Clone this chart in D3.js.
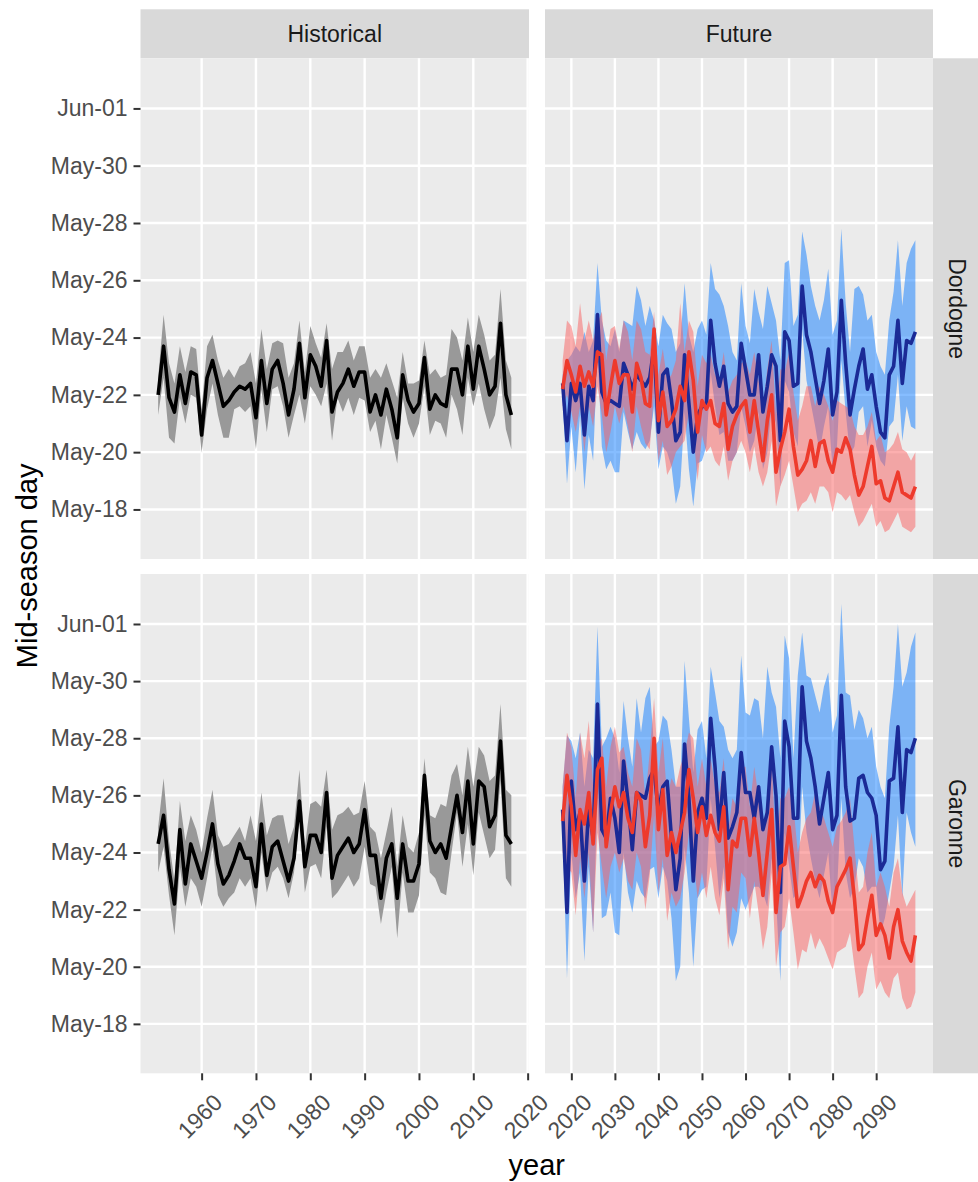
<!DOCTYPE html>
<html>
<head>
<meta charset="utf-8">
<script src="https://cdn.jsdelivr.net/npm/d3@7"></script>
<style>
body { margin: 0; background: #fff; }
text { font-family: "Liberation Sans", Arial, sans-serif; }
</style>
</head>
<body>
<div id="chart"></div>
<script>

// ---- data (values are day of May, Jun-01 = 32) ----

var periods = ["Historical", "Future"];
var rivers = ["Dordogne", "Garonne"];

var histYears = d3.range(1952, 2018);
var futYears = d3.range(2018, 2100);

var histTicks = [1960, 1970, 1980, 1990, 2000, 2010, 2020];
var futTicks = [2020, 2030, 2040, 2050, 2060, 2070, 2080, 2090];

var yTickDays = [18, 20, 22, 24, 26, 28, 30, 32];
var yTickLabels = ["May-18", "May-20", "May-22", "May-24", "May-26", "May-28", "May-30", "Jun-01"];

// historical, Dordogne
var dordogneHistMid = [22.0,23.7,21.9,21.4,22.7,21.7,22.8,22.7,20.6,22.6,
	23.2,22.4,21.6,21.8,22.1,22.3,22.2,22.4,21.2,23.2,
	21.7,22.9,23.2,22.4,21.3,22.2,23.8,21.9,23.4,23.0,
	22.3,23.9,21.4,22.1,22.4,22.9,22.3,22.8,22.8,21.4,
	22.0,21.3,22.2,21.5,20.5,22.7,21.8,21.4,21.7,23.3,
	21.5,22.0,21.7,21.6,22.9,22.9,22.0,23.7,22.2,23.7,
	22.9,22.0,22.3,24.5,22.0,21.3];
var dordogneHistHi = [22.6,24.8,23.1,22.4,23.7,22.8,23.7,23.6,21.5,23.7,
	24.1,23.2,22.6,22.9,22.6,23.0,23.1,23.5,22.4,24.3,
	22.9,23.8,23.9,23.8,22.6,23.1,24.6,22.8,24.4,23.8,
	23.3,24.5,22.9,23.5,23.5,23.9,23.2,23.7,23.7,22.6,
	22.9,22.6,23.1,22.5,21.9,23.5,22.4,22.4,22.5,23.9,
	22.7,22.9,22.6,22.7,24.3,24.0,23.2,24.7,23.5,24.8,
	24.1,23.2,23.4,25.7,23.2,22.6];
var dordogneHistLo = [21.3,22.6,20.5,20.3,21.9,21.0,22.0,21.9,20.0,21.5,
	22.4,21.3,20.5,20.5,21.5,21.6,21.4,21.6,20.1,22.2,
	20.7,22.2,22.3,21.6,20.5,21.3,22.0,21.0,22.3,22.0,
	21.6,22.4,20.4,21.9,21.4,21.9,21.3,21.9,21.8,20.7,
	21.1,20.1,21.3,20.5,19.6,21.9,21.0,20.5,21.0,22.3,
	20.6,21.1,21.0,20.5,22.0,21.5,20.6,22.6,21.6,22.4,
	21.5,20.8,21.3,22.6,20.8,20.1];

// historical, Garonne
var garonneHistMid = [24.3,25.3,23.4,22.2,24.8,22.9,24.3,23.7,23.1,24.0,
	25.0,23.6,22.9,23.2,23.7,24.3,23.8,23.8,22.8,25.0,
	23.2,24.2,24.4,23.7,23.0,23.8,25.8,23.5,24.6,24.6,
	24.0,26.1,23.1,23.9,24.2,24.5,24.0,24.3,25.5,23.9,
	23.9,22.4,23.8,24.3,22.4,24.3,23.0,23.0,23.6,26.7,
	24.4,24.0,24.3,23.8,24.9,26.0,24.7,26.5,24.3,26.5,
	26.3,24.9,25.3,27.9,24.6,24.3];
var garonneHistHi = [24.9,26.6,24.4,23.0,25.8,24.4,25.3,24.8,24.0,25.2,
	26.2,24.6,24.2,24.3,24.6,24.9,24.4,25.3,24.4,26.1,
	24.6,25.2,25.3,25.3,24.3,24.9,26.9,24.2,25.7,25.8,
	25.6,26.9,24.8,25.3,25.4,25.6,25.3,25.4,26.5,24.9,
	24.7,23.8,24.7,25.6,23.5,25.3,24.2,24.0,24.7,27.3,
	25.3,25.2,25.7,25.6,26.7,27.1,26.0,27.7,26.3,27.7,
	27.4,26.5,26.7,29.2,26.2,26.0];
var garonneHistLo = [23.3,24.2,22.5,21.1,23.5,22.1,23.1,22.8,22.1,23.1,
	24.2,22.5,22.1,22.4,22.6,23.1,22.8,23.1,22.0,24.0,
	22.6,23.3,23.5,23.1,22.4,23.3,25.2,22.6,23.5,23.6,
	23.1,24.9,22.4,22.6,22.9,23.2,22.8,23.1,24.2,22.9,
	22.8,21.5,22.6,23.5,21.0,23.3,21.9,21.9,22.5,25.3,
	23.3,23.1,22.6,22.5,24.0,25.4,23.5,25.0,23.2,25.4,
	24.6,23.8,24.1,26.5,23.1,22.8];

// future, Dordogne, blue series
var dordogneBlueMid = [22.4,20.4,22.4,21.8,22.4,20.6,22.3,21.8,24.8,22.1,
	21.7,21.8,21.7,21.6,23.1,22.7,22.2,22.7,22.5,22.3,
	22.6,23.7,20.7,22.7,22.9,21.8,20.4,20.7,23.4,21.7,
	20.0,21.3,21.6,21.6,24.6,23.1,22.3,23.0,21.7,21.4,
	21.6,23.8,22.9,22.0,22.0,23.4,21.4,22.3,23.4,23.0,
	20.4,24.2,23.9,22.3,22.4,25.8,24.1,23.5,22.6,21.7,
	22.5,23.6,21.3,22.1,25.3,23.1,21.3,22.2,23.0,23.6,
	22.2,22.7,21.6,20.7,20.5,22.7,23.0,24.6,22.4,23.9,
	23.8,24.2];
var dordogneBlueHi = [22.7,23.2,23.4,23.7,23.5,24.2,23.5,23.9,26.6,24.6,
	23.9,23.7,24.3,23.5,24.6,24.5,24.4,25.8,25.3,24.4,
	25.1,24.6,23.7,24.8,24.5,24.3,23.5,23.8,25.9,24.1,
	23.5,24.3,24.6,24.1,26.6,25.7,25.5,25.1,24.4,23.5,
	23.2,25.9,24.4,23.8,25.7,24.9,24.3,25.8,25.2,24.6,
	23.2,26.6,26.7,24.4,24.8,27.7,26.9,25.8,25.1,24.6,
	25.3,26.4,24.1,24.6,27.8,25.2,23.5,25.7,25.8,25.5,
	24.6,24.8,23.5,23.0,22.7,24.6,25.6,27.4,25.1,26.6,
	27.1,27.4];
var dordogneBlueLo = [21.8,18.9,20.9,19.3,21.3,18.7,20.6,19.7,23.5,20.2,
	19.4,19.7,19.3,19.3,21.4,20.7,20.1,20.7,20.3,20.1,
	20.4,21.6,19.4,20.2,20.0,19.5,18.2,18.8,21.4,19.4,
	18.1,19.6,19.7,20.2,22.8,21.6,20.6,20.7,19.7,19.7,
	20.0,21.6,20.9,20.0,20.4,21.4,19.4,20.0,21.6,21.0,
	18.8,22.5,22.1,20.7,20.2,24.3,22.5,21.7,20.9,20.0,
	20.9,21.6,19.3,20.2,23.2,21.4,19.9,20.2,21.4,21.6,
	20.2,21.1,20.2,19.7,19.5,20.9,21.1,22.7,20.4,21.6,
	20.9,20.8];

// future, Dordogne, red series
var dordogneRedMid = [22.2,23.2,22.7,22.1,23.0,22.3,22.8,22.3,23.5,23.4,
	21.3,22.3,23.2,22.4,22.7,22.7,21.4,23.1,22.6,21.7,
	21.6,24.3,21.1,22.1,20.9,21.1,21.5,22.3,21.8,23.5,
	22.5,20.7,21.8,21.5,21.8,21.0,20.9,21.7,20.1,20.9,
	21.3,21.6,21.8,20.7,21.8,20.7,19.7,21.1,22.0,19.3,
	20.1,20.7,21.5,20.2,19.2,19.4,19.7,20.4,19.5,20.3,
	20.4,19.7,19.3,20.1,20.0,20.5,20.1,19.2,18.5,18.8,
	19.5,20.2,18.9,19.0,18.4,18.3,18.8,19.3,18.6,18.5,
	18.4,18.8];
var dordogneRedHi = [23.2,24.6,24.4,23.7,25.2,23.9,24.6,23.9,24.5,24.9,
	23.2,24.3,24.4,23.6,24.6,24.2,23.2,24.6,24.3,23.5,
	23.4,24.9,22.7,23.6,22.5,22.7,23.2,25.2,23.5,24.6,
	24.2,22.3,23.4,23.1,23.4,22.7,22.5,23.5,22.1,22.5,
	22.7,23.1,23.2,22.7,23.5,22.5,21.5,22.9,23.9,21.3,
	22.9,22.8,23.5,22.1,21.1,21.6,22.3,22.3,21.6,22.3,
	22.0,21.6,21.1,21.8,21.7,21.6,21.5,20.9,20.6,20.6,
	20.9,21.4,20.4,20.6,20.0,20.1,20.3,20.7,20.1,20.0,
	19.7,20.0];
var dordogneRedLo = [21.6,22.0,21.4,20.7,21.6,20.0,21.6,20.9,22.3,21.3,
	20.0,20.7,21.6,21.0,21.6,20.9,20.0,21.6,20.9,20.3,
	20.1,22.1,19.7,20.4,19.2,19.5,20.0,20.2,20.4,21.4,
	20.7,19.0,20.6,20.0,20.2,19.7,19.5,20.2,19.0,19.7,
	20.0,20.4,20.0,19.3,20.2,19.3,18.8,19.3,20.4,18.1,
	18.8,19.2,19.7,18.8,17.9,18.2,18.3,18.6,18.2,18.8,
	18.8,18.6,17.9,18.6,18.5,18.3,18.5,17.9,17.4,17.6,
	17.9,18.2,17.4,17.6,17.2,17.3,17.6,17.9,17.4,17.3,
	17.2,17.4];

// future, Garonne, blue series
var garonneBlueMid = [25.5,21.9,26.5,24.8,25.4,23.0,25.6,24.5,29.2,24.8,
	24.5,25.9,25.2,24.0,27.2,25.8,24.1,26.1,26.0,25.9,
	26.6,26.9,25.4,26.3,26.5,24.5,22.7,23.8,27.8,25.9,
	23.0,25.4,25.9,25.2,28.7,27.0,24.8,26.8,24.5,24.9,
	25.4,27.5,26.1,26.1,25.2,26.3,24.8,25.4,27.7,26.0,
	22.6,28.6,27.7,25.2,25.2,29.8,27.9,27.3,26.3,25.0,
	25.9,26.8,24.8,25.3,29.5,26.3,25.1,25.2,26.6,26.7,
	26.1,25.9,25.3,23.4,23.7,26.5,26.6,28.4,25.4,27.6,
	27.5,28.0];
var garonneBlueHi = [26.3,28.1,27.9,27.3,28.2,26.3,27.6,27.3,31.9,27.7,
	28.0,28.4,28.0,26.8,29.3,28.0,27.0,29.4,28.2,29.4,
	29.8,27.7,27.9,28.8,28.6,27.6,26.3,26.3,30.7,28.7,
	26.8,28.3,28.6,27.3,30.5,29.6,28.6,28.4,27.6,27.3,
	27.6,30.9,28.9,28.8,29.4,29.3,28.0,30.5,29.6,29.1,
	27.3,31.6,30.8,27.3,30.2,31.7,30.2,30.1,29.5,28.9,
	29.8,30.3,28.2,28.8,32.7,29.6,29.5,28.3,29.0,28.7,
	28.0,28.4,27.0,26.3,25.9,28.4,29.8,32.0,29.8,30.3,
	31.2,31.7];
var garonneBlueLo = [24.7,19.6,24.0,22.4,23.3,20.2,23.5,21.2,25.9,21.7,
	21.8,22.6,21.2,21.1,24.0,22.6,21.9,23.0,22.6,22.4,
	23.4,23.5,22.4,23.5,23.0,21.7,19.5,20.0,24.2,22.6,
	20.0,22.4,22.7,22.8,25.9,24.2,22.4,23.5,21.2,20.7,
	21.2,22.4,22.0,22.4,22.8,22.8,22.6,22.1,23.8,22.4,
	19.5,24.7,23.5,22.4,22.6,26.3,24.7,23.8,23.0,22.4,
	23.2,24.0,21.8,22.6,25.9,23.3,22.4,22.8,23.8,23.5,
	22.6,22.8,22.8,21.2,21.7,22.6,23.5,25.3,22.4,25.4,
	24.7,24.2];

// future, Garonne, red series
var garonneRedMid = [25.1,26.7,25.6,23.9,25.5,25.0,26.1,24.3,26.9,27.3,
	24.2,25.4,26.3,25.6,26.1,25.2,24.7,26.1,25.8,24.2,
	25.3,28.0,24.8,26.2,23.9,24.7,24.0,24.7,25.4,26.9,
	25.9,24.7,25.6,24.6,25.3,24.7,24.4,25.6,22.7,24.4,
	24.2,25.2,25.2,23.9,25.2,24.0,22.5,24.0,25.5,21.9,
	23.5,23.6,24.9,23.5,22.1,22.5,23.0,23.3,22.8,23.2,
	23.0,22.3,21.9,22.8,23.1,23.4,23.8,22.4,20.6,20.8,
	21.7,22.5,21.1,21.5,21.1,20.3,21.4,22.0,20.9,20.5,
	20.2,21.1];
var garonneRedHi = [26.3,28.2,27.7,25.9,28.2,27.3,28.6,26.3,27.7,28.0,
	26.3,27.7,28.4,27.5,27.7,26.8,26.3,28.0,27.6,25.9,
	27.5,29.4,26.8,28.0,25.9,26.6,26.3,27.0,27.5,28.2,
	28.0,26.3,27.3,26.3,27.3,26.3,26.1,27.3,24.7,25.9,
	25.6,27.0,27.0,25.6,27.0,25.9,24.7,25.9,27.3,24.0,
	25.9,25.9,26.3,25.6,24.0,24.7,25.2,25.4,26.1,25.6,
	25.2,24.7,24.2,24.9,25.1,25.4,25.9,24.2,22.6,22.8,
	24.0,24.7,22.8,23.3,22.8,22.1,23.3,23.8,22.6,22.1,
	22.4,22.7];
var garonneRedLo = [24.0,23.5,23.3,21.8,23.8,22.4,24.0,21.2,24.7,23.5,
	22.4,23.5,24.0,23.3,23.8,23.0,22.7,24.0,23.5,22.0,
	23.2,25.3,22.6,23.8,21.6,22.6,22.1,22.4,23.3,24.7,
	23.8,22.4,23.3,22.4,23.5,22.4,21.8,23.1,20.6,22.1,
	21.9,23.3,23.1,21.7,23.0,21.9,20.6,21.4,23.3,20.0,
	21.2,21.4,22.4,21.2,19.9,20.6,20.5,21.2,20.6,21.0,
	20.7,20.3,19.9,20.5,20.6,20.7,21.2,20.0,18.9,19.1,
	20.0,20.5,19.2,19.5,19.1,18.9,19.6,19.8,18.9,18.5,
	18.6,19.1];

// ---- layout ----

var width = 978, height = 1182;

var colors = {
	panel: "#ebebeb",
	strip: "#d9d9d9",
	grid: "#ffffff",
	histBand: "#999999",
	histLine: "#000000",
	blueBand: "#0d7bff",
	blueLine: "#1b2a96",
	redBand: "#fa6060",
	redLine: "#ee3a2c"
};

// one entry per facet column / row
var cols = [
	{ name: periods[0], x0: 140.5, x1: 529, domain: [1948.75, 2020.25], ticks: histTicks },
	{ name: periods[1], x0: 545, x1: 933, domain: [2013.95, 2103.05], ticks: futTicks }
];
var rows = [
	{ name: rivers[0], y0: 58.3, y1: 559 },
	{ name: rivers[1], y0: 574, y1: 1073.3 }
];
var yDomain = [16.27, 33.75];
var stripTop = 9.3;

var zip = function(years, mid, lo, hi) {
	return years.map(function(yr, i) {
		return { year: yr, mid: mid[i], lo: lo[i], hi: hi[i] };
	});
};

// series per panel: [row][col]
var panels = [
	[
		[{ data: zip(histYears, dordogneHistMid, dordogneHistLo, dordogneHistHi), band: colors.histBand, bandOpacity: 1, line: colors.histLine }],
		[{ data: zip(futYears, dordogneBlueMid, dordogneBlueLo, dordogneBlueHi), band: colors.blueBand, bandOpacity: 0.5, line: colors.blueLine },
		 { data: zip(futYears, dordogneRedMid, dordogneRedLo, dordogneRedHi), band: colors.redBand, bandOpacity: 0.5, line: colors.redLine }]
	],
	[
		[{ data: zip(histYears, garonneHistMid, garonneHistLo, garonneHistHi), band: colors.histBand, bandOpacity: 1, line: colors.histLine }],
		[{ data: zip(futYears, garonneBlueMid, garonneBlueLo, garonneBlueHi), band: colors.blueBand, bandOpacity: 0.5, line: colors.blueLine },
		 { data: zip(futYears, garonneRedMid, garonneRedLo, garonneRedHi), band: colors.redBand, bandOpacity: 0.5, line: colors.redLine }]
	]
];

var svg = d3.select("#chart").append("svg")
	.attr("width", width)
	.attr("height", height);

svg.append("rect")
	.attr("width", width)
	.attr("height", height)
	.attr("fill", "#fff");

// top strips
cols.forEach(function(c) {
	svg.append("rect")
		.attr("x", c.x0).attr("y", stripTop)
		.attr("width", c.x1 - c.x0).attr("height", rows[0].y0 - stripTop)
		.attr("fill", colors.strip);
	svg.append("text")
		.attr("x", (c.x0 + c.x1) / 2)
		.attr("y", (stripTop + rows[0].y0) / 2)
		.attr("dy", "0.35em")
		.attr("text-anchor", "middle")
		.attr("font-size", 23)
		.attr("fill", "#1a1a1a")
		.text(c.name);
});

// right strips
rows.forEach(function(r) {
	var cx = cols[1].x1 + 24.5, cy = (r.y0 + r.y1) / 2;
	svg.append("rect")
		.attr("x", cols[1].x1).attr("y", r.y0)
		.attr("width", 49).attr("height", r.y1 - r.y0)
		.attr("fill", colors.strip);
	svg.append("text")
		.attr("transform", "translate(" + cx + "," + cy + ") rotate(90)")
		.attr("dy", "0.35em")
		.attr("text-anchor", "middle")
		.attr("font-size", 23)
		.attr("fill", "#1a1a1a")
		.text(r.name);
});

var styleAxis = function(g) {
	g.select(".domain").remove();
	g.selectAll(".tick line").attr("stroke", "#333").attr("stroke-width", 2);
	g.selectAll(".tick text")
		.attr("fill", "#4d4d4d")
		.attr("font-size", 23)
		.attr("font-family", "Liberation Sans, Arial, sans-serif");
};

rows.forEach(function(r, ri) {
	cols.forEach(function(c, ci) {

		var x = d3.scaleLinear().domain(c.domain).range([c.x0, c.x1]);
		var y = d3.scaleLinear().domain(yDomain).range([r.y1, r.y0]);

		var g = svg.append("g");

		// panel background
		g.append("rect")
			.attr("x", c.x0).attr("y", r.y0)
			.attr("width", c.x1 - c.x0).attr("height", r.y1 - r.y0)
			.attr("fill", colors.panel);

		// grid
		g.selectAll("line.vgrid")
			.data(c.ticks)
			.enter().append("line")
			.attr("class", "vgrid")
			.attr("x1", x).attr("x2", x)
			.attr("y1", r.y0).attr("y2", r.y1)
			.attr("stroke", colors.grid).attr("stroke-width", 2.4);

		g.selectAll("line.hgrid")
			.data(yTickDays)
			.enter().append("line")
			.attr("class", "hgrid")
			.attr("x1", c.x0).attr("x2", c.x1)
			.attr("y1", y).attr("y2", y)
			.attr("stroke", colors.grid).attr("stroke-width", 2.4);

		var area = d3.area()
			.x(function(d) { return x(d.year); })
			.y0(function(d) { return y(d.lo); })
			.y1(function(d) { return y(d.hi); });

		var line = d3.line()
			.x(function(d) { return x(d.year); })
			.y(function(d) { return y(d.mid); });

		var series = panels[ri][ci];

		// ribbons first, then the lines on top
		series.forEach(function(s) {
			g.append("path")
				.attr("d", area(s.data))
				.attr("fill", s.band)
				.attr("fill-opacity", s.bandOpacity);
		});
		series.forEach(function(s) {
			g.append("path")
				.attr("d", line(s.data))
				.attr("fill", "none")
				.attr("stroke", s.line)
				.attr("stroke-width", 3.6)
				.attr("stroke-linejoin", "round");
		});

		// y axis on the left column only
		if (ci === 0) {
			svg.append("g")
				.attr("transform", "translate(" + c.x0 + ",0)")
				.call(d3.axisLeft(y)
					.tickValues(yTickDays)
					.tickFormat(function(d, i) { return yTickLabels[i]; })
					.tickSize(7)
					.tickPadding(6))
				.call(styleAxis);
		}

		// x axis on the bottom row only
		if (ri === rows.length - 1) {
			var ax = svg.append("g")
				.attr("transform", "translate(0," + r.y1 + ")")
				.call(d3.axisBottom(x)
					.tickValues(c.ticks)
					.tickFormat(d3.format("d"))
					.tickSize(7))
				.call(styleAxis);
			ax.selectAll(".tick text")
				.attr("x", null)
				.attr("y", null)
				.attr("dy", "0.71em")
				.attr("text-anchor", "end")
				.attr("transform", "translate(10,19) rotate(-45)");
		}
	});
});

// axis titles
svg.append("text")
	.attr("x", (cols[0].x0 + cols[1].x1) / 2)
	.attr("y", 1175)
	.attr("text-anchor", "middle")
	.attr("font-size", 29)
	.attr("fill", "#000")
	.text("year");

svg.append("text")
	.attr("transform", "translate(37," + ((rows[0].y0 + rows[1].y1) / 2) + ") rotate(-90)")
	.attr("text-anchor", "middle")
	.attr("font-size", 29)
	.attr("fill", "#000")
	.text("Mid-season day");

</script>
</body>
</html>
